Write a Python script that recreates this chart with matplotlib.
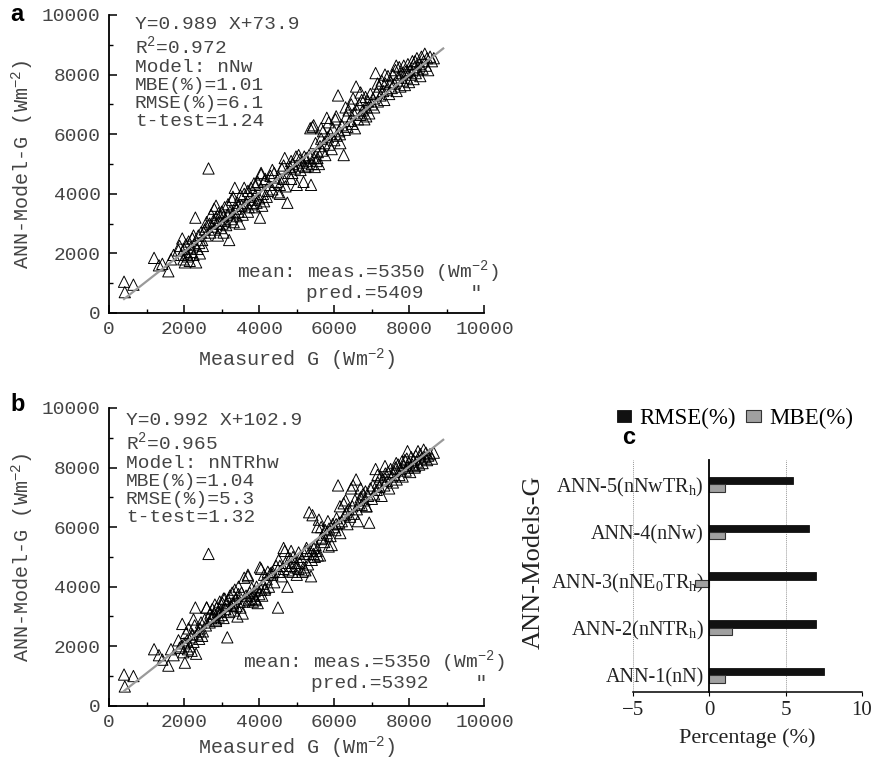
import numpy as np
import matplotlib.pyplot as plt
from matplotlib.ticker import MultipleLocator

# measured G and ANN predictions
meas = [400, 420, 650, 1200, 1330, 1420, 1580, 1650, 1720,
        1850, 1880, 1920, 1950, 1980, 2000, 2020, 2050, 2080, 2100, 2120, 2150, 2180,
        2200, 2220, 2250, 2280, 2300, 2320, 2350, 2380, 2400, 2420, 2450, 2480, 2500,
        2550, 2580, 2600, 2650, 2680, 2700, 2720, 2750, 2780, 2800, 2820, 2850, 2870,
        2900, 2920, 2950, 2980, 3000, 3020, 3050, 3080, 3100, 3120, 3150, 3170, 3200,
        3220, 3250, 3280, 3300, 3320, 3350, 3380, 3400, 3420, 3450, 3480, 3500, 3530, 3560,
        3600, 3650, 3700, 3720, 3750, 3780, 3800, 3830, 3860, 3880, 3900, 3930, 3960,
        4000, 4020, 4050, 4080, 4100, 4130, 4160, 4200, 4230, 4260,
        4300, 4350, 4400, 4450, 4500, 4520, 4550, 4600, 4650, 4680, 4700, 4750, 4780,
        4820, 4850, 4880, 4900, 4950, 4980, 5000, 5050, 5080, 5100, 5150, 5180, 5200,
        5230, 5260, 5300, 5330, 5360, 5380, 5400, 5420, 5450, 5480, 5500, 5530, 5560, 5590,
        5620, 5650, 5680, 5700, 5730, 5760, 5800, 5830, 5860, 5900, 5930, 5960, 6000,
        6030, 6060, 6100, 6130, 6160, 6200, 6250, 6280,
        6320, 6350, 6380, 6420, 6450, 6480, 6520, 6550, 6580, 6600, 6630, 6660, 6700,
        6730, 6760, 6800, 6830, 6860, 6900, 6930, 6960,
        7000, 7030, 7060, 7100, 7130, 7160, 7200, 7230, 7260, 7300, 7330, 7360, 7400,
        7430, 7460, 7500, 7530, 7560,
        7600, 7630, 7660, 7700, 7730, 7760, 7800, 7820, 7850, 7880, 7900, 7930, 7960,
        7990, 8020, 8050, 8080, 8110, 8140, 8170, 8200, 8230, 8260, 8290, 8320, 8350,
        8380, 8410, 8440, 8470, 8500, 8550, 8600, 8650,
        2250, 2600, 2850, 3050, 3300, 3450, 3600, 3700, 3900, 4050, 4150, 4350, 4550,
        4650, 4850, 5050, 5250, 5450, 5550, 5650, 5850, 6050, 6150, 6300, 6500, 6700,
        6850, 7150, 7350, 7650, 7950, 8150]

pred_a = [1050, 700, 950, 1850, 1600, 1650, 1400, 1800, 1950,
          2100, 2250, 1950, 2500, 1800, 2150, 1700, 2300, 2000, 1900, 2400, 1750, 2200,
          2050, 2500, 1950, 2300, 3200, 1700, 2150, 2600, 2350, 2000, 2700, 2450, 2250,
          2800, 2600, 3050, 4850, 3000, 2700, 3300, 2900, 3100, 3500, 2800, 3200, 3000,
          2600, 3350, 3100, 2850, 3400, 3000, 3250, 3550, 3100, 2950, 3300, 3650, 2450,
          3400, 3150, 3800, 3350, 3050, 4200, 3500, 3250, 3700, 3400, 3000, 3950, 3600, 3300,
          4000, 3700, 4100, 3550, 3900, 4200, 3650, 3800, 4350, 3550, 3950, 3700, 4400,
          3850, 3200, 4650, 3600, 4000, 3750, 4500, 3900, 4100, 4300,
          4600, 4150, 4700, 4400, 4050, 4550, 4300, 4850, 4500, 5200, 4250, 3700, 4700,
          4900, 5100, 4700, 5000, 4850, 5250, 4300, 4950, 5150, 4800, 5050, 4400, 5250,
          4900, 5100, 4950, 5300, 6200, 4300, 5000, 6250, 5200, 4900, 5700, 5100, 5400, 5000,
          5600, 5850, 5450, 6100, 5700, 5300, 6550, 5900, 5650, 6000, 5500, 6200, 5800,
          6500, 5950, 7300, 6100, 5700, 6300, 5300, 6150,
          6600, 6250, 6800, 6450, 7000, 6350, 6700, 6200, 7600, 6800, 6500, 7000, 6650,
          7150, 6800, 6500, 7250, 6900, 7100, 6700, 7350,
          7000, 7200, 6900, 8050, 7400, 7100, 7600, 7300, 7800, 7450, 7150, 7700, 7500,
          7950, 7350, 7750, 7550, 8000,
          7700, 8150, 7450, 7900, 8250, 7600, 8050, 7800, 8300, 7650, 8100, 7900, 8350,
          7750, 8150, 8000, 8450, 7850, 8250, 8050, 8550, 8150, 8350, 7950, 8600, 8200,
          8450, 8700, 8300, 8550, 8150, 8600, 8450, 8550,
          2600, 2900, 3600, 2700, 3900, 3600, 4200, 3400, 4300, 4700, 4450, 4800, 4000,
          4950, 4500, 5300, 5200, 6300, 5200, 6200, 6400, 6600, 6000, 6900, 7200, 7400,
          6600, 7700, 8000, 8300, 8100, 8450]

pred_b = [1050, 650, 1000, 1900, 1700, 1550, 1350, 1900, 1700,
          2200, 1950, 2000, 2750, 1800, 2100, 1450, 2450, 2200, 1900, 2600, 2000, 2300,
          1850, 2400, 2150, 2700, 3300, 1750, 2400, 2500, 2250, 2600, 2800, 2350, 2500,
          2900, 2700, 3300, 5100, 2800, 3100, 2950, 3250, 3000, 3100, 3400, 2850, 3300,
          3150, 3000, 3500, 3200, 3050, 3450, 2950, 3600, 3250, 3400, 2300, 3550, 3150,
          3700, 3350, 3800, 3450, 3200, 3900, 3600, 3350, 3000, 3750, 3500, 3300, 3800, 3100,
          4300, 3700, 4350, 3550, 3800, 3600, 3950, 3500, 3700, 3850, 3600, 4000, 3450,
          3750, 4650, 3900, 3700, 4100, 4400, 3950, 4250, 4500, 4000,
          4450, 4500, 4150, 4700, 3300, 4900, 4500, 4350, 4600, 5200, 4800, 4000, 4550,
          4950, 4700, 4500, 5000, 4800, 4650, 4400, 5150, 4800, 5000, 4500, 4650, 5100,
          4550, 5300, 4750, 6500, 5200, 4350, 4900, 6400, 5100, 5000, 5400, 5200, 5050, 6250,
          5050, 6000, 5650, 5750, 5500, 5900, 5800, 6200, 5950, 5700, 5400, 6100, 6000,
          5900, 6300, 7400, 6150, 5800, 6200, 6800, 6400,
          6500, 6100, 6600, 6350, 7300, 6700, 6450, 6900, 7600, 6600, 6200, 6800, 7000,
          6750, 7100, 6900, 7200, 6700, 7050, 6150, 7300,
          6950, 7400, 7100, 7950, 7250, 7500, 7350, 7700, 7050, 7600, 7400, 7800, 7550,
          7850, 7300, 7950, 7700, 7500,
          7850, 8000, 7600, 8100, 7750, 7950, 8200, 7700, 8050, 8250, 7900, 8300, 8000,
          8150, 7850, 8350, 8100, 8250, 8000, 8400, 8200, 8550, 8100, 8450, 8300, 8150,
          8600, 8350, 8500, 8250, 8400, 8450, 8300, 8500,
          2900, 3300, 2900, 3600, 3400, 4000, 3500, 4400, 3550, 4600, 3900, 4400, 4700,
          5300, 5200, 4600, 5200, 5300, 6000, 5600, 5350, 6100, 6700, 6900, 7400, 7300,
          6700, 7750, 8050, 8150, 8550, 8050]

fit_range = [400, 8900]
fit_a = (0.989, 73.9)
fit_b = (0.992, 102.9)

# panel c
models = ['ANN-1(nN)', 'ANN-2(nNTR$_\\mathregular{h}$)',
          'ANN-3(nNE$_\\mathregular{0}$TR$_\\mathregular{h}$)',
          'ANN-4(nNw)', 'ANN-5(nNwTR$_\\mathregular{h}$)']
rmse = [7.5, 7.0, 7.0, 6.5, 5.5]
mbe = [1.0, 1.5, -0.95, 1.0, 1.0]

MONO = 'Liberation Mono'
SERIF = 'Liberation Serif'
TXT = '#444444'


def scatter_panel(ax, pred, fit, lines, lx, ly, mean_txt, pred_txt, mx, my, px, py, xpad):
    ax.scatter(meas, pred, marker='^', s=66, facecolors='none',
               edgecolors='black', linewidths=0.7, zorder=2)
    xs = np.array(fit_range)
    ax.plot(xs, fit[0] * xs + fit[1], color='#9a9a9a', lw=1.6, zorder=3)
    ax.set_xlim(0, 10000)
    ax.set_ylim(0, 10000)
    ax.spines['top'].set_visible(False)
    ax.spines['right'].set_visible(False)
    for s in ['left', 'bottom']:
        ax.spines[s].set_linewidth(1.3)
    ax.xaxis.set_major_locator(MultipleLocator(2000))
    ax.xaxis.set_minor_locator(MultipleLocator(1000))
    ax.yaxis.set_major_locator(MultipleLocator(2000))
    ax.yaxis.set_minor_locator(MultipleLocator(1000))
    ax.tick_params(which='major', direction='in', length=6, width=1.1,
                   labelsize=14, labelcolor=TXT, pad=6)
    ax.tick_params(which='minor', direction='in', length=3, width=1.0)
    for lab in ax.get_xticklabels() + ax.get_yticklabels():
        lab.set_family(MONO)
    ax.set_xlabel('Measured G (Wm$^{\\mathregular{-2}}$)', family=MONO,
                  fontsize=14.5, color=TXT, labelpad=xpad)
    ax.set_ylabel('ANN-Model-G (Wm$^{\\mathregular{-2}}$)', family=MONO,
                  fontsize=14.5, color=TXT, labelpad=4)
    ax.text(lx, ly, '\n'.join(lines), family=MONO, fontsize=14, color=TXT,
            va='top', ha='left', linespacing=1.08)
    ax.text(mx, my, mean_txt, family=MONO, fontsize=14, color=TXT,
            va='center', ha='left')
    ax.text(px, py, pred_txt, family=MONO, fontsize=14, color=TXT,
            va='center', ha='left')


fig = plt.figure(figsize=(8.75, 7.61), dpi=100)

ax_a = fig.add_axes([0.1246, 0.5887, 0.4291, 0.3916])
scatter_panel(ax_a, pred_a, fit_a,
              ['Y=0.989 X+73.9', 'R$^{\\mathregular{2}}$=0.972', 'Model: nNw',
               'MBE(%)=1.01', 'RMSE(%)=6.1', 't-test=1.24'],
              690, 9950,
              'mean: meas.=5350 (Wm$^{\\mathregular{-2}}$)', 'pred.=5409    "',
              3400, 1380, 5240, 640, 6)

ax_b = fig.add_axes([0.1246, 0.0725, 0.4291, 0.3914])
scatter_panel(ax_b, pred_b, fit_b,
              ['Y=0.992 X+102.9', 'R$^{\\mathregular{2}}$=0.965', 'Model: nNTRhw',
               'MBE(%)=1.04', 'RMSE(%)=5.3', 't-test=1.32'],
              450, 9850,
              'mean: meas.=5350 (Wm$^{\\mathregular{-2}}$)', 'pred.=5392    "',
              3570, 1460, 5380, 735, 2)

fig.text(0.012, 0.981, 'a', family='Liberation Sans', weight='bold', fontsize=17, va='center')
fig.text(0.012, 0.468, 'b', family='Liberation Sans', weight='bold', fontsize=17, va='center')

# bar chart
ax_c = fig.add_axes([0.7234, 0.0907, 0.2617, 0.3048])
y = np.arange(len(models))
h = 0.155
ax_c.barh(y + h / 2, rmse, height=h, color='#111111', edgecolor='#111111',
          lw=0.6, label='RMSE(%)', zorder=3)
ax_c.barh(y - h / 2, mbe, height=h, color='#a0a0a0', edgecolor='#333333',
          lw=0.8, label='MBE(%)', zorder=3)
ax_c.set_xlim(-5, 10)
ax_c.set_ylim(-0.35, 4.51)
ax_c.set_xticks([-5, 0, 5, 10])
ax_c.set_xticklabels(['\u22125', '0', '5', '10'])
for gx in [-5, 5, 10]:
    ax_c.axvline(gx, color='#999999', lw=0.7, ls=(0, (1, 1)), zorder=1)
ax_c.spines['top'].set_visible(False)
ax_c.spines['right'].set_visible(False)
ax_c.spines['left'].set_position(('data', 0))
ax_c.spines['left'].set_linewidth(1.3)
ax_c.spines['left'].set_zorder(4)
ax_c.spines['bottom'].set_linewidth(1.1)
ax_c.set_yticks(y)
ax_c.set_yticklabels(models)
ax_c.tick_params(axis='y', length=0, pad=4)
ax_c.tick_params(axis='x', length=3, direction='out')
for lab in ax_c.get_xticklabels():
    lab.set_family(SERIF)
    lab.set_fontsize(15)
    lab.set_color('#222222')
for lab in ax_c.get_yticklabels():
    lab.set_family(SERIF)
    lab.set_fontsize(14.5)
    lab.set_color('#222222')
ax_c.set_xlabel('Percentage (%)', family=SERIF, fontsize=16, color='#222222', labelpad=6)
ax_c.set_ylabel('ANN-Models-G', family=SERIF, fontsize=19, color='#222222')
ax_c.yaxis.set_label_coords(-0.385, 0.56)
leg = ax_c.legend(loc='center', bbox_to_anchor=(0.445, 1.178), ncol=2, frameon=False,
                  prop={'family': SERIF, 'size': 16.5}, handlelength=0.65, handleheight=0.4,
                  handletextpad=0.35, columnspacing=0.45)
fig.text(0.711, 0.425, 'c', family='Liberation Sans', weight='bold', fontsize=17,
         va='center', zorder=10)

plt.savefig('out.png', dpi=100)
